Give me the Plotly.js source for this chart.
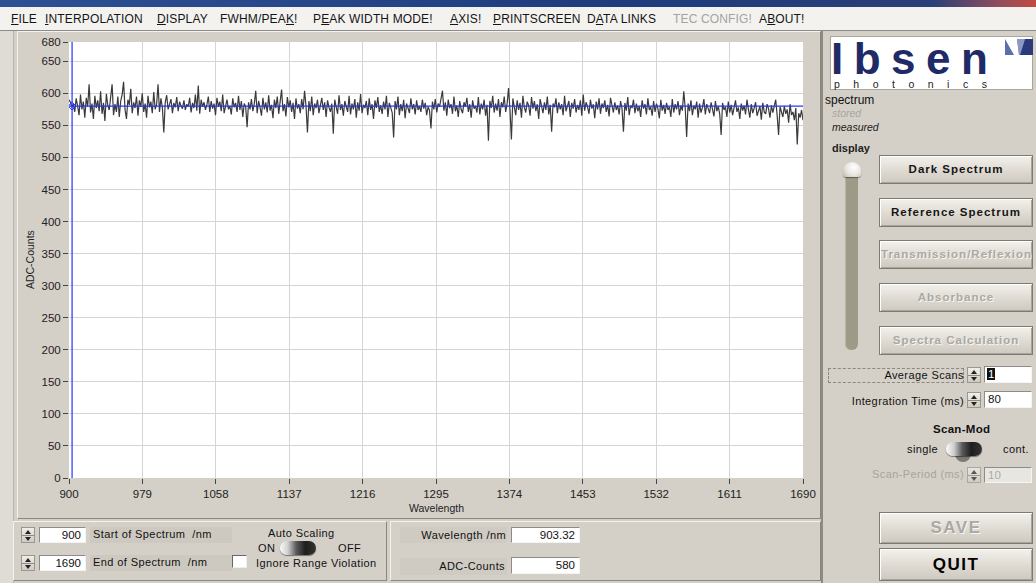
<!DOCTYPE html>
<html><head><meta charset="utf-8">
<script src="https://cdn.plot.ly/plotly-3.0.1.min.js"></script>
<style>
html,body{margin:0;padding:0}
body{width:1036px;height:583px;overflow:hidden;background:#d4d0c8;position:relative;font-family:"Liberation Sans",Arial,sans-serif;color:#111}
.a{position:absolute;white-space:nowrap;line-height:1}
.menu{font-size:12px;top:13px;color:#151515;letter-spacing:0.15px}
.menu u{text-decoration:underline;text-underline-offset:1px}
.btn{position:absolute;left:879px;width:152px;height:27px;border:1px solid #7d7a72;background:linear-gradient(#f3f1ec,#dedad2 55%,#cdc9c0);box-shadow:inset 1px 1px 0 #fff,inset -1px -1px 0 #a8a49b;font-weight:bold;font-size:11.5px;letter-spacing:1px;text-align:center;line-height:27px;overflow:hidden;white-space:nowrap;color:#161616}
.dis{color:#aaa8a3;text-shadow:1px 1px 0 #f7f6f3}
.inp{position:absolute;background:#fff;border-top:1px solid #8c8c8c;border-left:1px solid #8c8c8c;border-bottom:1px solid #f4f4f4;border-right:1px solid #f4f4f4;font-size:11.5px;line-height:14px;box-sizing:border-box;padding:0 4px;white-space:nowrap}
.spin{position:absolute;width:14px;height:16px;background:linear-gradient(#f0eee9,#cfcbc3);border:1px solid #9a978f;box-sizing:border-box}
.spin:before{content:"";position:absolute;left:2.5px;top:1.5px;border-left:3.5px solid transparent;border-right:3.5px solid transparent;border-bottom:4px solid #222}
.spin:after{content:"";position:absolute;left:2.5px;bottom:1.5px;border-left:3.5px solid transparent;border-right:3.5px solid transparent;border-top:4px solid #222}
.spin i{position:absolute;left:0;right:0;top:6.5px;height:1px;background:#8d8a82}
.tog{position:absolute;width:36px;height:14px;border-radius:7px;background:linear-gradient(to right,#fbfbfb 0%,#cfcfcf 22%,#5a5a5a 45%,#1e1e1e 70%,#333 100%);box-shadow:0 1px 1px rgba(0,0,0,.45)}
.lbl{font-size:11px;letter-spacing:0.4px}
.panel{position:absolute;box-sizing:border-box;border-top:1px solid #f4f2ee;border-left:1px solid #f4f2ee;border-bottom:1px solid #8a877f;border-right:1px solid #8a877f}
</style></head><body>

<!-- title strip and menu -->
<div class="a" style="left:0;top:0;width:1036px;height:7px;background:linear-gradient(to right,#2d5194,#1f3c7c 60%,#2a3f78 90%,#9a4d5a 97%,#c24a3e)"></div>
<div class="a" style="left:0;top:7px;width:1036px;height:23px;background:#f3f2ef;border-bottom:1px solid #8c8c8c"></div>
<div class="a menu" style="left:11px"><u>F</u>ILE</div>
<div class="a menu" style="left:45px"><u>I</u>NTERPOLATION</div>
<div class="a menu" style="left:157px"><u>D</u>ISPLAY</div>
<div class="a menu" style="left:220px">FWHM/PEA<u>K</u>!</div>
<div class="a menu" style="left:313px">P<u>E</u>AK WIDTH MODE!</div>
<div class="a menu" style="left:450px"><u>A</u>XIS!</div>
<div class="a menu" style="left:493px"><u>P</u>RINTSCREEN</div>
<div class="a menu" style="left:587px">D<u>A</u>TA LINKS</div>
<div class="a menu" style="left:673px;color:#a3a3a3">TEC CONFIG!</div>
<div class="a menu" style="left:759px">A<u>B</u>OUT!</div>

<!-- left strip -->
<div class="a" style="left:0;top:31px;width:13px;height:552px;background:#dfdcd5;border-right:1px solid #b9b5ac"></div>

<!-- graph panel -->
<div class="panel" style="left:17px;top:31px;width:804px;height:488px"></div>
<div id="chart" class="a" style="left:20px;top:32px;width:800px;height:484px"></div>
<div class="a" style="left:821px;top:31px;width:2px;height:552px;background:#8e8b83"></div>

<!-- bottom left panel -->
<div class="panel" style="left:13px;top:521px;width:374px;height:60px"></div>
<div class="spin" style="left:21px;top:527px"><i></i></div>
<div class="inp" style="left:39px;top:527px;width:47px;height:16px;text-align:right">900</div>
<div class="a" style="left:90px;top:527px;width:142px;height:16px;background:#cdc9c1"></div>
<div class="a lbl" style="left:93px;top:529px">Start of Spectrum &nbsp;/nm</div>
<div class="spin" style="left:21px;top:555px"><i></i></div>
<div class="inp" style="left:39px;top:555px;width:47px;height:16px;text-align:right">1690</div>
<div class="a" style="left:90px;top:555px;width:142px;height:16px;background:#cdc9c1"></div>
<div class="a lbl" style="left:93px;top:557px">End of Spectrum &nbsp;/nm</div>
<div class="a lbl" style="left:268px;top:528px">Auto Scaling</div>
<div class="a lbl" style="left:258px;top:543px">ON</div>
<div class="tog" style="left:280px;top:541px"></div>
<div class="a lbl" style="left:338px;top:543px">OFF</div>
<div class="a" style="left:232px;top:555px;width:15px;height:13px;background:#fff;border-top:1px solid #666;border-left:1px solid #666;border-bottom:1px solid #eee;border-right:1px solid #eee;box-sizing:border-box"></div>
<div class="a lbl" style="left:256px;top:558px">Ignore Range Violation</div>

<!-- bottom middle panel -->
<div class="panel" style="left:390px;top:521px;width:431px;height:60px"></div>
<div class="a" style="left:400px;top:527px;width:107px;height:16px;background:#cfcbc3"></div>
<div class="a lbl" style="right:530px;top:530px">Wavelength /nm</div>
<div class="inp" style="left:511px;top:527px;width:69px;height:16px;text-align:right">903.32</div>
<div class="a" style="left:400px;top:558px;width:107px;height:17px;background:#cfcbc3"></div>
<div class="a lbl" style="right:531px;top:561px">ADC-Counts</div>
<div class="inp" style="left:511px;top:557px;width:69px;height:17px;text-align:right;line-height:15px">580</div>

<!-- right panel -->
<div class="a" style="left:830px;top:36px;width:203px;height:54px;background:#fff;border:1px solid #a9a6a0;box-sizing:border-box">
  <div class="a" style="left:0px;top:5px;font-size:44px;line-height:34px;font-weight:bold;letter-spacing:10.5px;color:#1f2a66">Ibsen</div>
  <div class="a" style="left:3px;top:42px;font-size:10.5px;letter-spacing:13.5px;color:#222">photonics</div>
  <svg class="a" style="left:174px;top:2px" width="28" height="16" viewBox="0 0 28 16">
    <rect x="0" y="0" width="28" height="16" fill="#5a6ea8"/>
    <polygon points="0,0 12,0 14,16 9,16" fill="#fff"/>
    <polygon points="15,16 20,0 28,0 28,16" fill="#2a3a7a"/>
    <polygon points="12,0 20,0 15,16 14,16" fill="#8a98c4"/>
  </svg>
</div>
<div class="a" style="left:825px;top:94px;font-size:12px;color:#111">spectrum</div>
<div class="a" style="left:832px;top:108px;font-size:10.5px;font-style:italic;color:#a8a6a0">stored</div>
<div class="a" style="left:832px;top:122px;font-size:10.5px;font-style:italic;color:#222">measured</div>
<div class="a" style="left:832px;top:143px;font-size:11px;font-weight:bold;color:#222">display</div>
<div class="a" style="left:845px;top:168px;width:13px;height:182px;background:#9d9a88;border-radius:0 0 6px 6px;box-shadow:inset 1px 0 0 #b9b6a6"></div>
<div class="a" style="left:843px;top:162px;width:18px;height:15px;border-radius:9px 9px 3px 3px;background:radial-gradient(circle at 60% 35%,#ffffff,#e7e5de 55%,#b7b4aa);box-shadow:0 1px 1px rgba(0,0,0,.4)"></div>

<div class="btn" style="top:155px">Dark Spectrum</div>
<div class="btn" style="top:198px">Reference Spectrum</div>
<div class="btn dis" style="top:240px;text-align:left;padding-left:1px;box-sizing:content-box;width:151px">Transmission/Reflexion</div>
<div class="btn dis" style="top:283px">Absorbance</div>
<div class="btn dis" style="top:326px">Spectra Calculation</div>

<div class="a" style="left:828px;top:368px;width:136px;height:15px;border:1px dashed #8a877f;box-sizing:border-box"></div>
<div class="a lbl" style="right:72px;top:370px">Average Scans</div>
<div class="spin" style="left:967px;top:367px"><i></i></div>
<div class="inp" style="left:984px;top:366px;width:48px;height:17px;padding-left:2px"><span style="background:#111;color:#fff;padding:0 1px">1</span></div>
<div class="a lbl" style="right:72px;top:396px">Integration Time (ms)</div>
<div class="spin" style="left:967px;top:392px"><i></i></div>
<div class="inp" style="left:984px;top:391px;width:48px;height:17px;padding-left:3px">80</div>

<div class="a" style="left:933px;top:424px;font-size:11.5px;font-weight:bold;letter-spacing:0.3px">Scan-Mod</div>
<div class="a lbl" style="left:907px;top:444px">single</div>
<div class="a" style="left:955px;top:450px;width:16px;height:12px;border-radius:0 0 8px 8px;background:#7c7a74"></div>
<div class="tog" style="left:946px;top:442px"></div>
<div class="a lbl" style="left:1003px;top:444px">cont.</div>
<div class="a lbl" style="right:72px;top:469px;color:#a6a49e">Scan-Period (ms)</div>
<div class="spin" style="left:967px;top:467px;opacity:.7"><i></i></div>
<div class="inp" style="left:984px;top:467px;width:48px;height:16px;padding-left:3px;color:#aaa;background:#e8e6e1">10</div>

<div class="btn dis" style="top:512px;height:30px;line-height:30px;font-size:17px;letter-spacing:1.5px">SAVE</div>
<div class="btn" style="top:548px;height:31px;line-height:31px;font-size:17px;letter-spacing:1.5px;color:#000">QUIT</div>

<script>
// ---- data ----
const startNm = 900;
const endNm = 1690;
const xTickVals = [900, 979, 1058, 1137, 1216, 1295, 1374, 1453, 1532, 1611, 1690];
const yTickVals = [0, 50, 100, 150, 200, 250, 300, 350, 400, 450, 500, 550, 600, 650, 680];
const cursorWavelength = 903.32;
const cursorCounts = 580;
const adcCounts = [
 590,586,578,583,571,592,580,566,598,575,587,562,593,579,614,570,
 584,560,596,577,589,572,603,568,585,557,599,581,574,592,614,566,
 583,571,595,563,588,598,618,575,560,590,582,607,569,586,577,595,
 565,589,579,600,571,584,562,596,578,587,569,602,575,583,614,571,
 592,578,539,586,597,575,583,591,569,585,578,594,572,587,580,576,
 589,574,583,579,593,570,585,577,598,573,612,568,590,579,586,574,
 582,595,571,588,576,584,566,593,579,587,572,598,569,583,590,575,
 580,567,592,578,585,571,596,574,588,563,584,579,547,586,575,591,
 572,584,604,569,588,578,565,593,575,586,570,597,573,582,561,590,
 577,595,568,587,606,572,583,564,594,578,589,571,585,560,592,576,
 583,569,591,575,604,580,539,588,572,595,566,584,577,590,569,581,
 593,574,586,563,589,578,571,584,537,590,576,568,597,574,583,565,
 588,579,571,596,567,584,575,591,562,586,573,599,569,582,577,588,
 566,592,574,583,560,589,577,594,571,581,568,587,575,596,563,585,
 578,570,531,588,575,595,566,583,572,590,561,584,577,569,592,575,
 583,567,589,574,580,571,590,576,585,566,579,573,545,587,575,591,
 570,584,579,592,604,573,586,565,590,577,583,568,595,572,581,563,
 588,575,569,586,579,593,571,583,562,589,576,580,570,594,567,584,
 575,590,565,582,526,588,577,596,570,584,573,591,563,586,578,595,
 571,583,608,575,528,592,579,566,589,574,585,562,596,578,570,587,
 581,565,594,576,588,572,583,560,591,577,569,586,574,595,567,582,
 540,584,578,592,569,586,575,583,566,596,572,580,588,563,585,576,
 591,570,582,574,589,565,598,573,586,579,568,590,576,583,561,587,
 575,592,568,584,577,589,571,582,564,593,578,570,586,574,581,567,
 588,576,540,585,573,594,566,581,577,590,569,584,572,580,563,589,
 576,583,567,592,574,579,565,588,571,584,576,561,590,573,582,568,
 585,574,579,563,591,570,583,575,588,566,581,573,603,577,532,584,
 572,589,566,581,575,587,562,584,570,578,591,567,583,574,569,586,
 577,564,588,572,580,568,535,585,574,579,563,587,570,582,566,576,
 589,571,578,560,584,573,581,567,590,575,562,583,569,577,586,565,
 574,580,559,585,571,568,583,576,562,581,570,578,590,566,535,579,
 572,563,580,568,575,554,583,566,571,558,577,520,569,562,574,558
];

const spectrum = {
  type: 'scatter', mode: 'lines',
  y: adcCounts,
  x0: startNm,
  dx: (endNm - startNm) / (adcCounts.length - 1),
  line: {color: '#3a3a3a', width: 1.2},
  hoverinfo: 'skip'
};
const cursorMark = {
  type: 'scatter', mode: 'markers',
  x: [cursorWavelength], y: [cursorCounts],
  marker: {symbol: 'diamond-open', size: 6, color: '#2233ff', line: {width: 1}},
  hoverinfo: 'skip'
};

const layout = {
  width: 800, height: 484,
  margin: {l: 49, r: 17, t: 10, b: 38},
  paper_bgcolor: '#d4d0c8',
  plot_bgcolor: '#ffffff',
  showlegend: false,
  font: {family: 'Liberation Sans, Arial, sans-serif', size: 11, color: '#222'},
  xaxis: {
    range: [startNm, endNm], tickvals: xTickVals, ticktext: xTickVals.map(String),
    ticks: 'outside', ticklen: 5, tickcolor: '#444', tickwidth: 1,
    showgrid: true, gridcolor: '#d4d4d4', gridwidth: 1, zeroline: false,
    showline: false, tickfont: {size: 11.5, color: '#222'}
  },
  yaxis: {
    range: [0, 680], tickvals: yTickVals, ticktext: yTickVals.map(String),
    ticks: 'outside', ticklen: 5, tickcolor: '#444', tickwidth: 1,
    showgrid: true, gridcolor: '#d4d4d4', gridwidth: 1, zeroline: false,
    showline: false, tickfont: {size: 11.5, color: '#222'}
  },
  shapes: [
    {type: 'line', xref: 'x', yref: 'paper', x0: cursorWavelength, x1: cursorWavelength, y0: 0, y1: 1,
     line: {color: '#2233ff', width: 1.2}},
    {type: 'line', xref: 'paper', yref: 'y', x0: 0, x1: 1, y0: cursorCounts, y1: cursorCounts,
     line: {color: '#2233ff', width: 1.2}}
  ],
  annotations: [
    {text: 'Wavelength', xref: 'paper', yref: 'paper', x: 0.5, y: -0.069, xanchor: 'center', yanchor: 'middle',
     showarrow: false, font: {size: 10.5, color: '#222'}},
    {text: 'ADC-Counts', xref: 'paper', yref: 'paper', x: -0.053, y: 0.5, xanchor: 'center', yanchor: 'middle',
     textangle: -90, showarrow: false, font: {size: 10.5, color: '#222'}}
  ]
};

Plotly.newPlot('chart', [spectrum, cursorMark], layout, {staticPlot: true, displayModeBar: false});
</script>
</body></html>
